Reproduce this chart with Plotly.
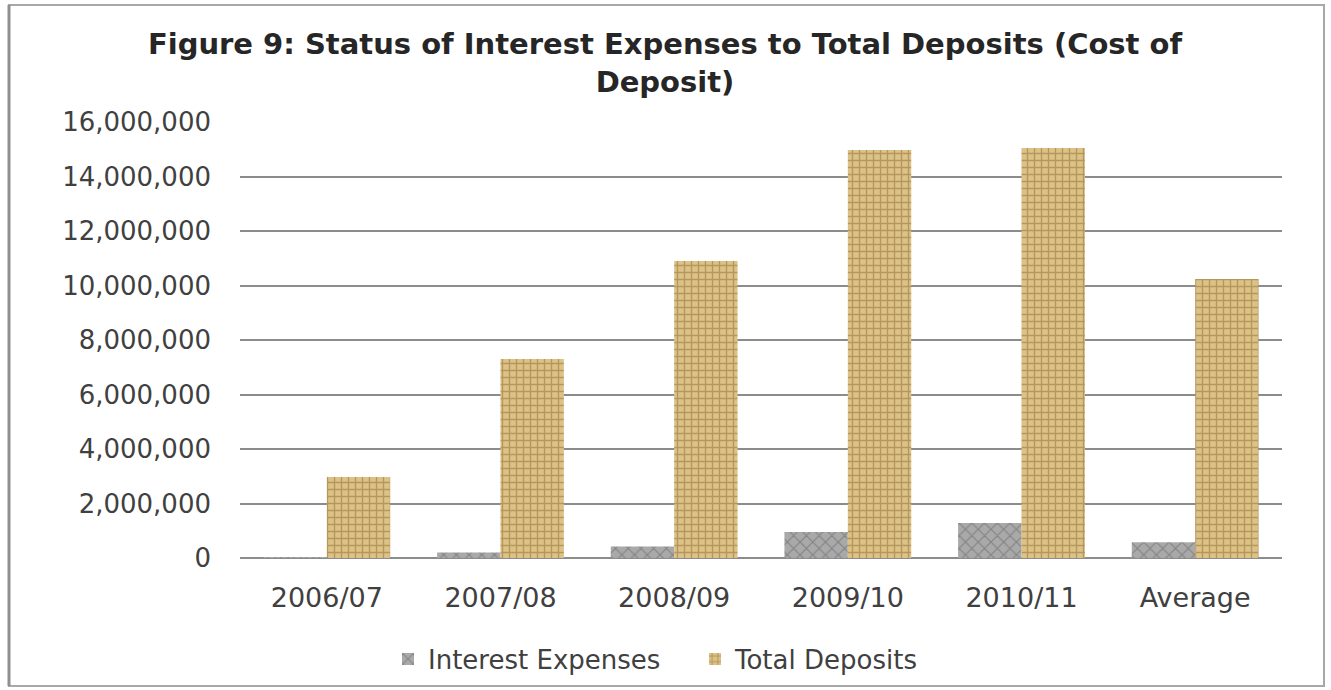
import plotly.graph_objects as go

# Fiscal years plus the overall average
categories = ["2006/07", "2007/08", "2008/09", "2009/10", "2010/11", "Average"]

# Interest expenses and total deposits per year
interest_expenses = [20000, 200000, 420000, 950000, 1280000, 574000]
total_deposits = [2970000, 7300000, 10900000, 14970000, 15050000, 10240000]

y_tickvals = [0, 2000000, 4000000, 6000000, 8000000, 10000000, 12000000, 14000000, 16000000]
y_ticktext = ["0", "2,000,000", "4,000,000", "6,000,000", "8,000,000",
              "10,000,000", "12,000,000", "14,000,000", "16,000,000"]

W, H = 1331, 690
L, R, T, B = 240, 49, 122, 132
pw, ph = W - L - R, H - T - B


def px_to_paper_x(px):
    return (px - L) / pw


def px_to_paper_y(py):
    return (H - B - py) / ph


fig = go.Figure()

fig.add_trace(go.Bar(
    name="Interest Expenses",
    x=categories,
    y=interest_expenses,
    marker=dict(
        color="#9b9b9b",
        line=dict(width=0),
        pattern=dict(shape="x", fgcolor="#5e5e5e", bgcolor="#a9a9a9",
                     size=9, solidity=0.25),
    ),
))

fig.add_trace(go.Bar(
    name="Total Deposits",
    x=categories,
    y=total_deposits,
    marker=dict(
        color="#d3b677",
        line=dict(width=0),
        pattern=dict(shape="+", fgcolor="#8d6c33", bgcolor="#dcc286",
                     size=7, solidity=0.35),
    ),
))

# Outer frame of the chart
frame_color = "#a8a8a8"
fig.add_shape(type="rect", xref="paper", yref="paper",
              x0=px_to_paper_x(9), x1=px_to_paper_x(1324),
              y0=px_to_paper_y(686), y1=px_to_paper_y(5),
              line=dict(color=frame_color, width=2), layer="below")
fig.add_shape(type="line", xref="paper", yref="paper",
              x0=px_to_paper_x(9), x1=px_to_paper_x(9),
              y0=px_to_paper_y(686), y1=px_to_paper_y(5),
              line=dict(color="#8f8f8f", width=3), layer="below")

fig.update_layout(
    width=W, height=H,
    margin=dict(l=L, r=R, t=T, b=B, autoexpand=False),
    paper_bgcolor="white",
    plot_bgcolor="white",
    barmode="group",
    bargap=0.27,
    bargroupgap=0,
    title=dict(
        text="Figure 9: Status of Interest Expenses to Total Deposits (Cost of<br>Deposit)",
        x=665 / W, xref="container", xanchor="center",
        y=1 - 54 / H, yref="container", yanchor="top",
        font=dict(family="DejaVu Sans", size=29, color="#262626", weight="bold"),
    ),
    font=dict(family="DejaVu Sans", color="#404040"),
    legend=dict(
        orientation="h",
        x=px_to_paper_x(388), xanchor="left",
        y=px_to_paper_y(659), yanchor="middle",
        font=dict(family="DejaVu Sans", size=26, color="#404040"),
        itemwidth=30,
        entrywidth=262,
        entrywidthmode="pixels",
        tracegroupgap=0,
    ),
    xaxis=dict(
        automargin=False,
        showgrid=False,
        showline=False,
        ticks="",
        ticklabelstandoff=21,
        tickfont=dict(family="DejaVu Sans", size=27, color="#404040"),
    ),
    yaxis=dict(
        automargin=False,
        range=[0, 16000000],
        tickvals=y_tickvals,
        ticktext=y_ticktext,
        showgrid=True,
        gridcolor="#8c8c8c",
        gridwidth=2,
        zeroline=True,
        zerolinecolor="#8c8c8c",
        zerolinewidth=2,
        showline=False,
        ticks="",
        ticklabelstandoff=28,
        tickfont=dict(family="DejaVu Sans", size=26, color="#404040"),
    ),
)

fig.write_html("out.html")
